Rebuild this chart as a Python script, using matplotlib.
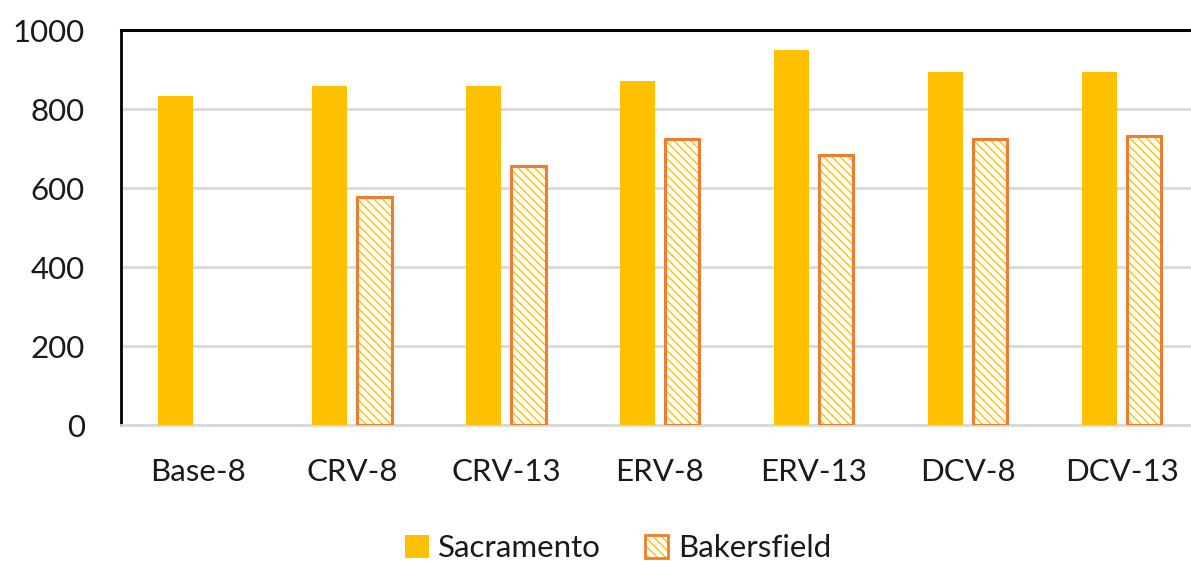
import matplotlib.pyplot as plt
import matplotlib.patches as mpatches
from matplotlib.legend_handler import HandlerTuple
import numpy as np

categories = ["Base-8", "CRV-8", "CRV-13", "ERV-8", "ERV-13", "DCV-8", "DCV-13"]
sacramento = [833, 858, 858, 871, 949, 894, 894]
bakersfield = [0, 578, 655, 724, 684, 723, 731]

plt.rcParams['font.family'] = ['Lato', 'DejaVu Sans']

fig = plt.figure(figsize=(11.91, 5.61), dpi=100)
ax = fig.add_axes([0.1016, 0.2424, 0.8984, 0.7041])

x = np.arange(len(categories))
w = 0.225
off = 0.145

# Sacramento - solid gold
ax.bar(x - off, sacramento, w, color="#FFC000", zorder=3)

# Bakersfield - white with gold hatch, orange outline
bak_x = x[1:] + off
bak_v = bakersfield[1:]
ax.bar(bak_x, bak_v, w, facecolor="white", edgecolor="#FFC000",
       hatch="\\\\\\\\", linewidth=0, zorder=3)
ax.bar(bak_x, bak_v, w, facecolor="none", edgecolor="#ED7D31",
       linewidth=2.2, zorder=4)

ax.set_xlim(-0.5, 6.45)
ax.set_ylim(0, 1000)
ax.set_yticks([0, 200, 400, 600, 800, 1000])
ax.set_xticks(x)
ax.set_xticklabels(categories)
ax.tick_params(axis='y', length=0, pad=26, labelsize=22.5, colors="#1a1a1a")
ax.tick_params(axis='x', length=0, pad=24, labelsize=22.5, colors="#1a1a1a")

ax.yaxis.grid(True, color="#D9D9D9", linewidth=2, zorder=0)
ax.set_axisbelow(True)
ax.spines["right"].set_visible(False)
ax.spines["top"].set_color("black")
ax.spines["top"].set_linewidth(2.2)
ax.spines["left"].set_color("black")
ax.spines["left"].set_linewidth(2)
ax.spines["bottom"].set_color("#D9D9D9")
ax.spines["bottom"].set_linewidth(2)

# legend
h1 = mpatches.Patch(facecolor="#FFC000")
h2a = mpatches.Patch(facecolor="white", edgecolor="#FFC000", hatch="\\\\\\\\", linewidth=0)
h2b = mpatches.Patch(facecolor="none", edgecolor="#ED7D31", linewidth=2)
fig.legend([h1, (h2a, h2b)], ["Sacramento", "Bakersfield"],
           handler_map={tuple: HandlerTuple(ndivide=1, pad=0)},
           loc="center", bbox_to_anchor=(0.519, 0.023), ncol=2, frameon=False,
           fontsize=22.5, handlelength=0.75, handleheight=0.75, handletextpad=0.3,
           columnspacing=1.4, labelcolor="#1a1a1a")

fig.savefig("out.png", dpi=100)
